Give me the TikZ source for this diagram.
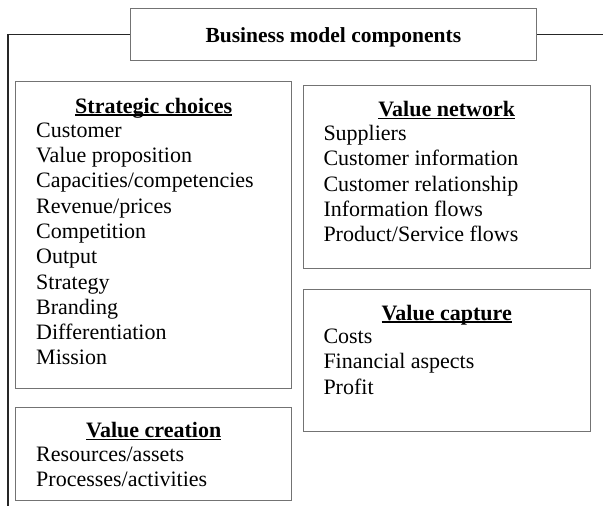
\documentclass[tikz,border=0pt]{standalone}
\usepackage{fontspec}
\setmainfont{Liberation Serif}
% bold heading with a rule just under the baseline
\newcommand{\headul}[1]{\setbox0\hbox{#1}\rlap{\rule[-2.6pt]{\wd0}{1.5pt}}\box0}
\begin{document}
\begin{tikzpicture}[x=1pt,y=-1pt,
  panel/.style={draw=black!55, line width=0.9pt, inner sep=0pt},
  link/.style={draw=black!85, line width=1.2pt},
  head/.style={font=\bfseries\fontsize{22}{25.3}\selectfont, inner sep=0pt, anchor=base},
  items/.style={inner sep=0pt, anchor=base west, font=\fontsize{22}{25.3}\selectfont}]
  \useasboundingbox (0,0) rectangle (603,506);

  % title box and its text
  \node[panel, minimum width=406.7pt, minimum height=52.4pt] (title) at (333.35,34.5) {};
  \node[inner sep=0pt, anchor=base, font=\bfseries\fontsize{21.5}{25}\selectfont]
        (titleT) at (333.35,42.5) {Business model components};

  % component boxes
  \node[panel, minimum width=276pt, minimum height=306.6pt] (strat) at (153.7,235) {};
  \node[panel, minimum width=276pt, minimum height=93.4pt] (create) at (153.7,454) {};
  \node[panel, minimum width=286.7pt, minimum height=183.3pt] (network) at (446.65,176.65) {};
  \node[panel, minimum width=286.7pt, minimum height=142.7pt] (capture) at (446.65,360.35) {};

  % headings
  \node[head] (stratH) at (153.7,113.3) {\headul{Strategic choices}};
  \node[head] (networkH) at (446.7,116.5) {\headul{Value network}};
  \node[head] (captureH) at (446.7,320) {\headul{Value capture}};
  \node[head] (createH) at (153.7,437.5) {\headul{Value creation}};

  % item lists
  \node[items] (stratL) at (36,137.3) {\parbox[t]{250pt}{\raggedright
    Customer\\Value proposition\\Capacities/competencies\\Revenue/prices\\Competition\\
    Output\\Strategy\\Branding\\Differentiation\\Mission}};
  \node[items] (networkL) at (323.3,140.5) {\parbox[t]{260pt}{\raggedright
    Suppliers\\Customer information\\Customer relationship\\Information flows\\Product/Service flows}};
  \node[items] (captureL) at (323.3,343.5) {\parbox[t]{260pt}{\raggedright
    Costs\\Financial aspects\\Profit}};
  \node[items] (createL) at (36,461.5) {\parbox[t]{250pt}{\raggedright
    Resources/assets\\Processes/activities}};

  % connectors from the title box
  \coordinate (corner) at (8,34.5);
  \coordinate (foot) at (8,506);
  \coordinate (edge) at (603,34.5);
  \draw[link] (title.west) -- (corner) -- (foot);
  \draw[link] (title.east) -- (edge);
\end{tikzpicture}
\end{document}
